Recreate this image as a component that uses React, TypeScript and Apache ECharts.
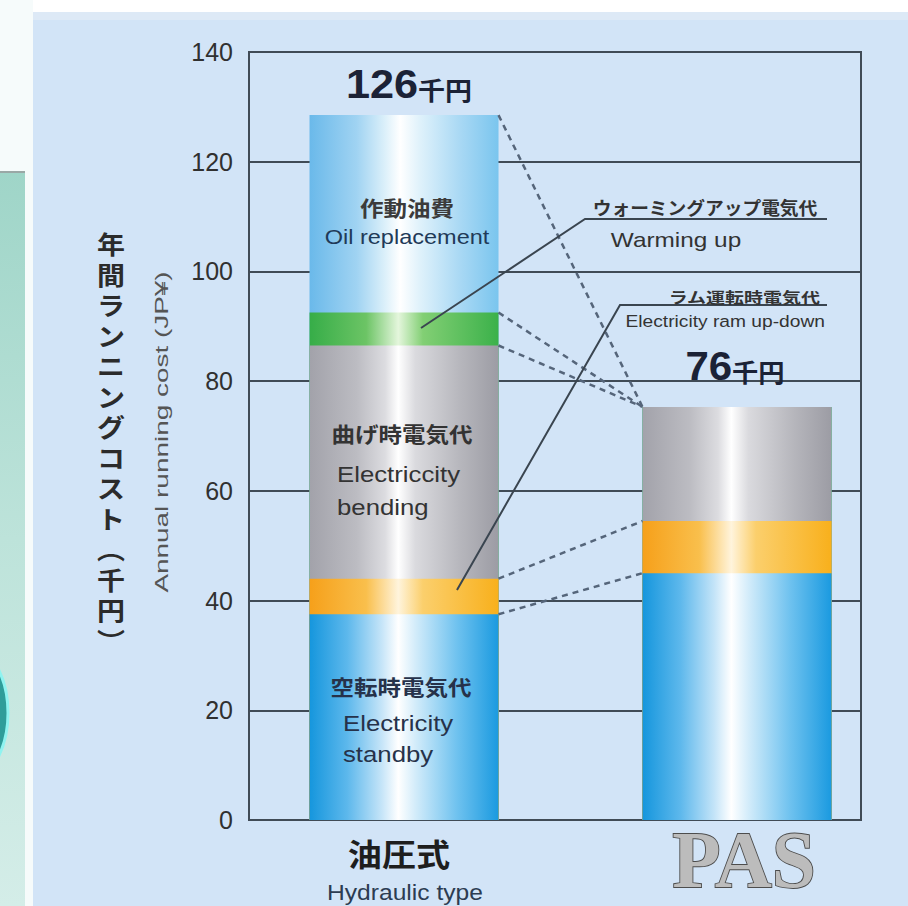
import React, { useEffect, useRef } from 'react';
import * as echarts from 'echarts';

// ---------------- data ----------------
const categories = ['油圧式', 'PAS'];
const categorySubtitles = ['Hydraulic type', ''];
const standbyCost = [37.5, 45];
const ramUpDownCost = [6.5, 9.5];
const bendingCost = [42.5, 20.8];
const warmingUpCost = [6, 0];
const oilReplacementCost = [36, 0];
const totalLabels = ['126', '76'];
const yTickValues = [0, 20, 40, 60, 80, 100, 120, 140];

// ---------------- layout ----------------
const W = 908;
const H = 906;
const GRID = { left: 249, right: 47, top: 52, bottom: 86 };
const X_MAX = 100;
const barCenters = [25.33, 79.74];
const BAR_PX = 189;
const plotW = W - GRID.left - GRID.right;
const barHalf = (BAR_PX / 2 / plotW) * X_MAX;

const LAT = '"Liberation Sans", Arial, sans-serif';
const JP = '"Noto Sans CJK JP", sans-serif';

const hGrad = (stops: [number, string][]) =>
  new echarts.graphic.LinearGradient(0, 0, 1, 0, stops.map(([offset, color]) => ({ offset, color })));

const gradBlue = hGrad([[0, '#1596dd'], [0.2, '#5db8ec'], [0.38, '#c4e4f8'], [0.47, '#ffffff'], [0.56, '#d3ecfa'], [0.78, '#6fc2ef'], [1, '#1a9ae0']]);
const gradOil = hGrad([[0, '#6ab9ea'], [0.25, '#a0d3f2'], [0.4, '#dcf0fa'], [0.48, '#ffffff'], [0.58, '#e0f2fb'], [0.8, '#a8d8f4'], [1, '#7ac5ee']]);
const gradGray = hGrad([[0, '#a2a2aa'], [0.25, '#bcbcc2'], [0.4, '#dcdce0'], [0.47, '#ffffff'], [0.56, '#dadade'], [0.8, '#b6b6bc'], [1, '#9c9ca4']]);
const gradGreen = hGrad([[0, '#36ad48'], [0.3, '#6cc465'], [0.47, '#e4f6dc'], [0.6, '#82cf74'], [1, '#3bb14a']]);
const gradOrange = hGrad([[0, '#f6a01a'], [0.3, '#f9bf4c'], [0.47, '#fff4dc'], [0.6, '#fbcf6c'], [1, '#f8b01c']]);

export default function App() {
  const ref = useRef<HTMLDivElement>(null);

  useEffect(() => {
    const chart = echarts.init(ref.current!, undefined, { renderer: 'svg' });

    // layers from bottom to top
    const layers = [
      { name: '空転時電気代', vals: standbyCost, color: gradBlue },
      { name: 'ラム運転時電気代', vals: ramUpDownCost, color: gradOrange },
      { name: '曲げ時電気代', vals: bendingCost, color: gradGray },
      { name: 'ウォーミングアップ電気代', vals: warmingUpCost, color: gradGreen },
      { name: '作動油費', vals: oilReplacementCost, color: gradOil },
    ];
    // cumulative tops (stack computed here, bars overlap from the axis)
    const tops = layers.map((_, k) =>
      categories.map((__, i) => layers.slice(0, k + 1).reduce((s, l) => s + l.vals[i], 0))
    );

    const barSeries = layers
      .map((l, k) => ({
        type: 'bar',
        name: l.name,
        barWidth: BAR_PX,
        barGap: '-100%',
        silent: true,
        z: 3,
        itemStyle: { color: l.color },
        data: tops[k].map((v, i) => [barCenters[i], v]),
      }))
      .reverse(); // tallest first so lower segments are drawn on top

    const hR = barCenters[0] + barHalf;
    const pL = barCenters[1] - barHalf;
    const h = (k: number) => (k === 0 ? 0 : tops[k - 1][0]);
    const p = (k: number) => (k === 0 ? 0 : tops[k - 1][1]);
    const connectors = [
      [[hR, h(5)], [pL, p(5)]],
      [[hR, h(4)], [pL, p(5)]],
      [[hR, h(3)], [pL, p(5)]],
      [[hR, h(2)], [pL, p(2)]],
      [[hR, h(1)], [pL, p(1)]],
    ];

    const txt = (x: number, y: number, text: string, font: string, fill: string, align = 'center', extra: any = {}) => ({
      type: 'text',
      x,
      y,
      z: 30,
      silent: true,
      ...extra,
      style: { text, font, fill, align, verticalAlign: 'middle', ...(extra.style || {}) },
    });

    const totalRich = {
      a: { font: `bold 40px ${LAT}`, fill: '#1b2236', verticalAlign: 'bottom' },
      b: { font: `bold 25px ${JP}`, fill: '#1b2236', verticalAlign: 'bottom', padding: [0, 0, 3, 0] },
    };

    const graphic: any[] = [
      { type: 'rect', z: 0, shape: { x: 0, y: 0, width: W, height: 12 }, style: { fill: '#ffffff' } },
      { type: 'rect', z: 0, shape: { x: 0, y: 0, width: 33, height: H }, style: { fill: '#f6fbfb' } },
      {
        type: 'rect', z: 1, shape: { x: 0, y: 172, width: 25, height: H - 172 },
        style: { fill: new echarts.graphic.LinearGradient(0, 0, 0, 1, [{ offset: 0, color: '#9fd5c8' }, { offset: 0.5, color: '#bde3da' }, { offset: 1, color: '#d4ede8' }]) },
      },
      { type: 'line', z: 2, shape: { x1: 0, y1: 172, x2: 25, y2: 172 }, style: { stroke: '#9aa8a6', lineWidth: 2 } },
      { type: 'ellipse', z: 2, shape: { cx: -42, cy: 713, rx: 50, ry: 74 }, style: { fill: '#2f9d9a', stroke: '#8ff3f0', lineWidth: 3 } },
      { type: 'rect', z: 0, shape: { x: 33, y: 12, width: W - 33, height: 8 }, style: { fill: '#dde9f6' } },
      // annotation leader lines
      { type: 'polyline', z: 25, silent: true, shape: { points: [[421, 328], [585, 219], [827, 219]] }, style: { stroke: '#3a4550', lineWidth: 2, fill: null } },
      { type: 'polyline', z: 25, silent: true, shape: { points: [[457, 590], [620, 305], [827, 305]] }, style: { stroke: '#3a4550', lineWidth: 2, fill: null } },
      // axis titles
      txt(111, 228, '年\n間\nラ\nン\nニ\nン\nグ\nコ\nス\nト\n︵\n千\n円\n︶', `bold 25px ${JP}`, '#2b2b2b', 'center', {
        scaleX: 1.12, style: { verticalAlign: 'top', lineHeight: 30.5 },
      }),
      txt(161, 432, 'Annual running cost (JP¥)', `19px ${LAT}`, '#555555', 'center', { rotation: Math.PI / 2, scaleX: 1.47 }),
      // totals
      {
        type: 'text', x: 409, y: 84, z: 30, scaleX: 1.08,
        style: { text: `{a|${totalLabels[0]}}{b|千円}`, align: 'center', verticalAlign: 'middle', fill: '#1b2236', rich: totalRich },
      },
      {
        type: 'text', x: 735, y: 366, z: 30, scaleX: 1.05,
        style: { text: `{a|${totalLabels[1]}}{b|千円}`, align: 'center', verticalAlign: 'middle', fill: '#1b2236', rich: totalRich },
      },
      // segment labels (hydraulic bar)
      txt(407, 207, '作動油費', `bold 21px ${JP}`, '#3b3b3b', 'center', { scaleX: 1.12 }),
      txt(407, 237, 'Oil replacement', `21px ${LAT}`, '#1f3a58', 'center', { scaleX: 1.12 }),
      txt(402, 433, '曲げ時電気代', `bold 21px ${JP}`, '#333333', 'center', { scaleX: 1.12 }),
      txt(337, 474, 'Electriccity', `23px ${LAT}`, '#333333', 'left', { scaleX: 1.12 }),
      txt(337, 507, 'bending', `23px ${LAT}`, '#333333', 'left', { scaleX: 1.12 }),
      txt(401, 686, '空転時電気代', `bold 21px ${JP}`, '#26324a', 'center', { scaleX: 1.12 }),
      txt(343, 723, 'Electricity', `23px ${LAT}`, '#26324a', 'left', { scaleX: 1.12 }),
      txt(343, 754, 'standby', `23px ${LAT}`, '#26324a', 'left', { scaleX: 1.12 }),
      // annotation texts
      txt(705, 207, 'ウォーミングアップ電気代', `bold 18px ${JP}`, '#333333', 'center', { scaleX: 1.04 }),
      txt(676, 240, 'Warming up', `21px ${LAT}`, '#333333', 'center', { scaleX: 1.16 }),
      txt(820, 296, 'ラム運転時電気代', `bold 19px ${JP}`, '#333333', 'right', { scaleY: 0.8 }),
      txt(825, 321, 'Electricity ram up-down', `17px ${LAT}`, '#333333', 'right', { scaleX: 1.13 }),
      // category labels
      txt(399, 852, categories[0], `bold 31px ${JP}`, '#1e1e1e', 'center', { scaleX: 1.1 }),
      txt(405, 892, categorySubtitles[0], `22px ${LAT}`, '#2c3c52', 'center', { scaleX: 1.12 }),
      txt(744, 860, categories[1], `bold 72px "Liberation Serif", serif`, '#bcbcbc', 'center', {
        scaleY: 1.12,
        scaleX: 1.1,
        style: { stroke: '#4d4d4d', lineWidth: 1.6 },
      }),
    ];

    chart.setOption({
      animation: false,
      backgroundColor: '#d2e4f7',
      grid: { ...GRID, show: true, borderColor: '#404b56', borderWidth: 2, backgroundColor: 'transparent', containLabel: false },
      xAxis: { type: 'value', min: 0, max: X_MAX, show: false },
      yAxis: {
        type: 'value',
        min: yTickValues[0],
        max: yTickValues[yTickValues.length - 1],
        interval: yTickValues[1] - yTickValues[0],
        axisLine: { show: false },
        axisTick: { show: false },
        splitLine: { show: true, lineStyle: { color: '#404b56', width: 2 } },
        axisLabel: { fontSize: 25, color: '#303030', margin: 16, fontFamily: LAT },
      },
      series: [
        ...barSeries,
        {
          type: 'lines',
          coordinateSystem: 'cartesian2d',
          silent: true,
          z: 5,
          lineStyle: { color: '#55657a', width: 2.5, type: [6, 5], opacity: 1, curveness: 0 },
          data: connectors.map((c) => ({ coords: c })),
        },
      ],
      graphic,
    });

    return () => chart.dispose();
  }, []);

  return <div ref={ref} style={{ position: 'fixed', left: 0, top: 0, width: W, height: H }} />;
}
